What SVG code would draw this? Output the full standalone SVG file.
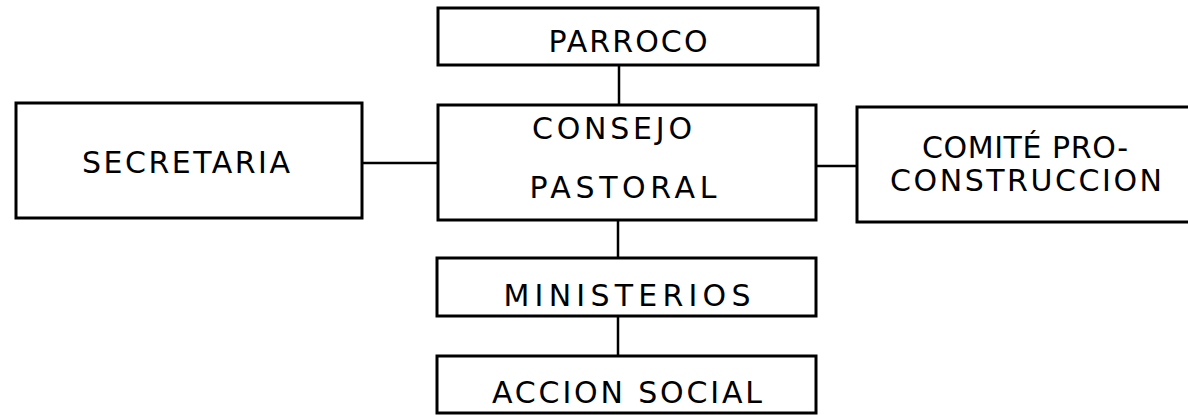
<svg xmlns="http://www.w3.org/2000/svg" width="1188" height="415" viewBox="0 0 1188 415">
<style>
.box{fill:#fff;stroke:#000;stroke-width:3}
.lbl{font-family:"DejaVu Sans","Liberation Sans",sans-serif;font-size:30px;fill:#000;text-anchor:middle}
.con{stroke:#000;stroke-width:2.5;fill:none}
</style>
<rect width="1188" height="415" fill="#fff"/>
<g id="connectors">
<line class="con" x1="619" y1="65" x2="619" y2="105"/>
<line class="con" x1="362" y1="163" x2="438" y2="163"/>
<line class="con" x1="817" y1="166" x2="857" y2="166"/>
<line class="con" x1="618" y1="220" x2="618" y2="258"/>
<line class="con" x1="618" y1="316" x2="618" y2="356"/>
</g>
<g id="parroco">
<rect class="box" x="438" y="8" width="380" height="57"/>
<text class="lbl" x="628" y="52" textLength="159" lengthAdjust="spacing">PARROCO</text>
</g>
<g id="consejo">
<rect class="box" x="438" y="105" width="378" height="115"/>
<text class="lbl" x="612" y="139" textLength="160" lengthAdjust="spacing">CONSEJO</text>
<text class="lbl" x="623" y="198" textLength="187" lengthAdjust="spacing">PASTORAL</text>
</g>
<g id="secretaria">
<rect class="box" x="16" y="103" width="346" height="115"/>
<text class="lbl" x="186" y="173" textLength="208" lengthAdjust="spacing">SECRETARIA</text>
</g>
<g id="comite">
<rect class="box" x="857" y="107" width="340" height="115"/>
<text class="lbl" x="1025" y="158" textLength="206" lengthAdjust="spacing">COMITÉ PRO-</text>
<text class="lbl" x="1026" y="191" textLength="272" lengthAdjust="spacing">CONSTRUCCION</text>
</g>
<g id="ministerios">
<rect class="box" x="437" y="258" width="379" height="58"/>
<text class="lbl" x="627" y="306" textLength="247" lengthAdjust="spacing">MINISTERIOS</text>
</g>
<g id="accion">
<rect class="box" x="437" y="356" width="379" height="57"/>
<text class="lbl" x="627" y="403" textLength="270" lengthAdjust="spacing">ACCION SOCIAL</text>
</g>
</svg>
